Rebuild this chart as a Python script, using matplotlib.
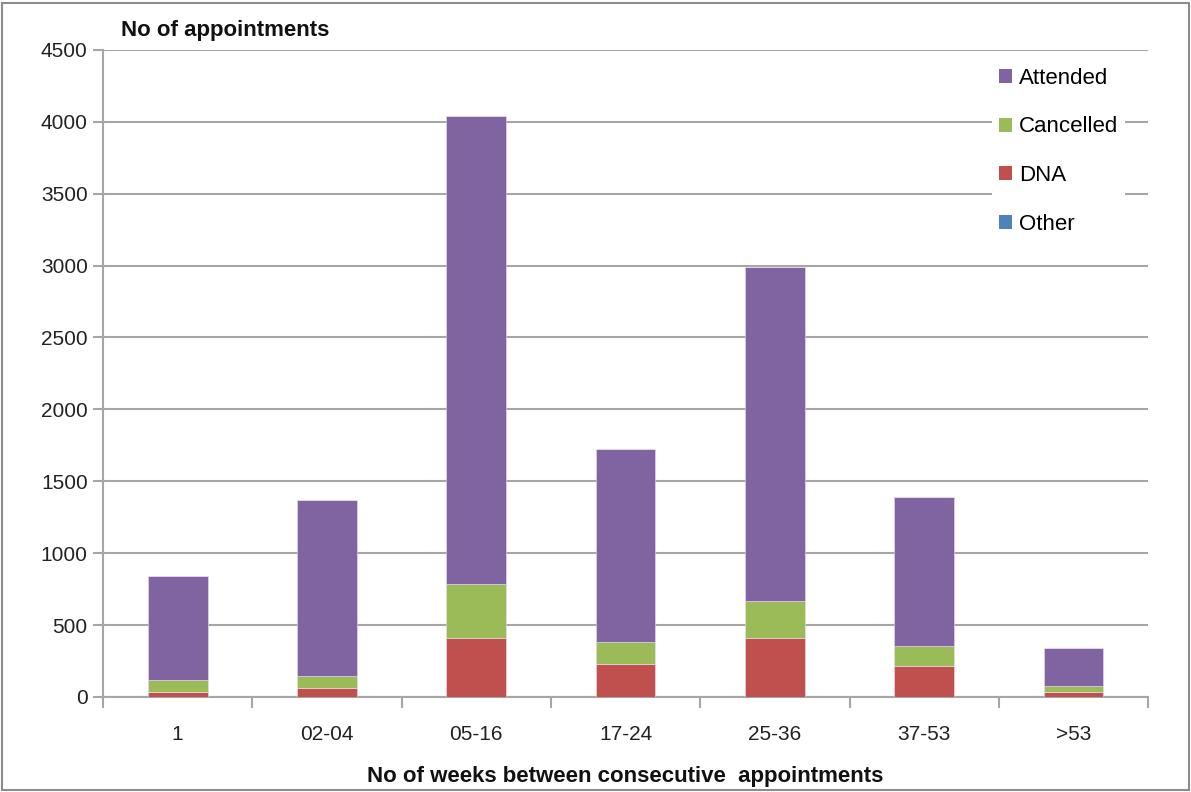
import matplotlib
matplotlib.use('agg')
import matplotlib.pyplot as plt
import numpy as np
from matplotlib.patches import Patch, Rectangle

categories = ['1', '02-04', '05-16', '17-24', '25-36', '37-53', '>53']
dna = [35, 63, 410, 229, 410, 215, 35]
cancelled = [83, 83, 375, 153, 257, 139, 41]
attended = [722, 1222, 3257, 1340, 2326, 1035, 264]
other = [0, 0, 0, 0, 0, 0, 0]

colors = {'Attended': '#8064A2', 'Cancelled': '#9BBB59',
          'DNA': '#C0504D', 'Other': '#4F81BD'}

plt.rcParams['font.family'] = ['Liberation Sans', 'DejaVu Sans']
grid_c = '#a6a6a6'

fig = plt.figure(figsize=(11.91, 7.92), dpi=100)
ax = fig.add_axes([0.0865, 0.12, 0.8775, 0.817])

x = np.arange(len(categories))
w = 0.4
bottom = np.zeros(len(categories))
for name, vals in [('DNA', dna), ('Cancelled', cancelled),
                   ('Attended', attended), ('Other', other)]:
    ax.bar(x, vals, w, bottom=bottom, color=colors[name],
           edgecolor='#e8e0f0', linewidth=0.4, zorder=3)
    bottom += np.array(vals)

ax.set_xlim(-0.5, len(categories) - 0.5)
ax.set_ylim(0, 4500)
ax.set_yticks(np.arange(0, 4501, 500))
ax.yaxis.grid(True, color=grid_c, linewidth=1.5, zorder=0)
ax.tick_params(axis='y', labelsize=15, length=7, width=1.5, color=grid_c,
               pad=4, labelcolor='#222222')

ax.set_xticks(x)
ax.set_xticklabels(categories)
ax.tick_params(axis='x', which='major', length=0, labelsize=15, pad=20,
               labelcolor='#222222')
ax.set_xticks(np.arange(-0.5, len(categories)), minor=True)
ax.tick_params(axis='x', which='minor', length=8, width=1.5, color=grid_c)

for side in ['top', 'right']:
    ax.spines[side].set_visible(False)
for side in ['left', 'bottom']:
    ax.spines[side].set_color(grid_c)
    ax.spines[side].set_linewidth(1.5)

ax.set_xlabel('No of weeks between consecutive  appointments',
              fontsize=16, fontweight='bold', labelpad=16, color='#111111')
fig.text(0.102, 0.962, 'No of appointments', fontsize=16,
         fontweight='bold', color='#111111', va='center')

handles = [Patch(facecolor=colors[n], label=n)
           for n in ['Attended', 'Cancelled', 'DNA', 'Other']]
leg = ax.legend(handles=handles, loc='upper left',
                bbox_to_anchor=(0.84, 1.0), fontsize=16, frameon=True,
                facecolor='white', edgecolor='none', framealpha=1,
                handlelength=0.6, handleheight=0.6, handletextpad=0.3,
                labelspacing=1.25, borderpad=0.3, fancybox=False)
leg.set_zorder(5)

fig.patches.append(Rectangle((0.002, 0.002), 0.996, 0.994,
                             transform=fig.transFigure, fill=False,
                             edgecolor='#8c8c8c', linewidth=1.5))

plt.savefig('out.png', dpi=100)
